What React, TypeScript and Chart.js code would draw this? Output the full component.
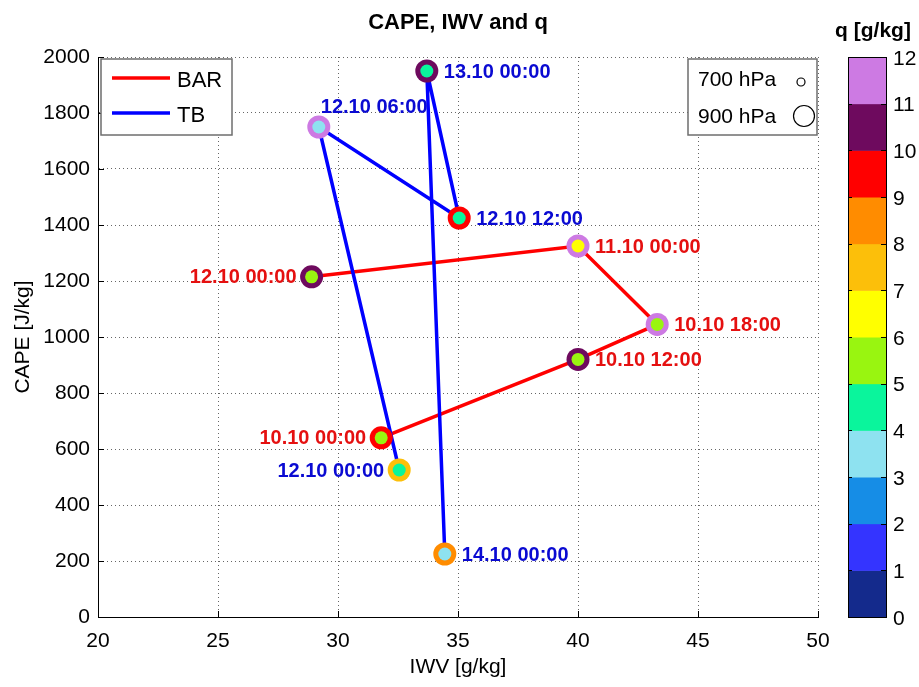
import React, { useEffect, useRef } from "react";
import { Chart, registerables } from "chart.js";

Chart.register(...registerables);

// ---------- data ----------
const barTimes = ["10.10 00:00", "10.10 12:00", "10.10 18:00", "11.10 00:00", "12.10 00:00"];
const barIWV = [31.8, 40.0, 43.3, 40.0, 28.9];
const barCAPE = [640, 920, 1045, 1325, 1215];
const barQ700 = [5.5, 5.5, 5.5, 6.5, 5.5];
const barQ900 = [9.5, 10.5, 11.5, 11.5, 10.5];

const tbTimes = ["12.10 00:00", "12.10 06:00", "12.10 12:00", "13.10 00:00", "14.10 00:00"];
const tbIWV = [32.55, 29.2, 35.05, 33.7, 34.45];
const tbCAPE = [525, 1750, 1425, 1950, 225];
const tbQ700 = [4.5, 3.5, 4.5, 4.5, 3.5];
const tbQ900 = [7.5, 11.5, 9.5, 10.5, 8.5];

const qTicks = [0, 1, 2, 3, 4, 5, 6, 7, 8, 9, 10, 11, 12];
const qColors = [
  "#142a8c", "#3434ff", "#168de6", "#8ee2f0", "#0af59c", "#99f510",
  "#ffff00", "#fcbf0a", "#ff8c00", "#ff0000", "#6e0a5e", "#cd7ae3",
];

// label placement (style)
const barLabelSide = ["left", "right", "right", "right", "left"];
const tbLabelSide = ["left", "above", "right", "right", "right"];

const FONT = "'Liberation Sans', Arial, Helvetica, sans-serif";
const RED = "#ff0000";
const BLUE = "#0000ff";
const RED_TXT = "#e51010";
const BLUE_TXT = "#0a0ad2";
const GRID = "rgba(0,0,0,0.6)";

const qColor = (q: number) => qColors[Math.max(0, Math.min(qColors.length - 1, Math.floor(q)))];
const pts = (xs: number[], ys: number[]) => xs.map((x, i) => ({ x, y: ys[i] }));

const decor = {
  id: "decor",
  afterDraw(chart: any) {
    const ctx: CanvasRenderingContext2D = chart.ctx;
    const xs = chart.scales.x;
    const ys = chart.scales.y;
    const qs = chart.scales.q;
    const area = chart.chartArea;
    ctx.save();

    // inward ticks
    ctx.strokeStyle = "#000";
    ctx.lineWidth = 1;
    ctx.beginPath();
    xs.ticks.forEach((t: any) => {
      const px = Math.round(xs.getPixelForValue(t.value)) + 0.5;
      ctx.moveTo(px, area.bottom);
      ctx.lineTo(px, area.bottom - 6);
    });
    ys.ticks.forEach((t: any) => {
      const py = Math.round(ys.getPixelForValue(t.value)) + 0.5;
      ctx.moveTo(area.left, py);
      ctx.lineTo(area.left + 6, py);
    });
    ctx.stroke();

    // title & axis titles
    ctx.fillStyle = "#000";
    ctx.textAlign = "center";
    ctx.textBaseline = "middle";
    ctx.font = `bold 22px ${FONT}`;
    ctx.fillText("CAPE, IWV and q", (area.left + area.right) / 2, 23);
    ctx.font = `21px ${FONT}`;
    ctx.fillText("IWV [g/kg]", (area.left + area.right) / 2, 667);
    ctx.save();
    ctx.translate(23, (area.top + area.bottom) / 2);
    ctx.rotate(-Math.PI / 2);
    ctx.fillText("CAPE [J/kg]", 0, 0);
    ctx.restore();

    // point labels
    const drawLabels = (times: string[], ix: number[], iy: number[], sides: string[], color: string) => {
      ctx.font = `bold 20px ${FONT}`;
      ctx.fillStyle = color;
      ctx.textBaseline = "middle";
      times.forEach((t, i) => {
        const px = xs.getPixelForValue(ix[i]);
        const py = ys.getPixelForValue(iy[i]);
        if (sides[i] === "left") {
          ctx.textAlign = "right";
          ctx.fillText(t, px - 15, py + 1);
        } else if (sides[i] === "right") {
          ctx.textAlign = "left";
          ctx.fillText(t, px + 17, py + 1);
        } else {
          ctx.textAlign = "left";
          ctx.fillText(t, px + 2, py - 20);
        }
      });
    };
    drawLabels(barTimes, barIWV, barCAPE, barLabelSide, RED_TXT);
    drawLabels(tbTimes, tbIWV, tbCAPE, tbLabelSide, BLUE_TXT);

    // legend 1 (lines)
    ctx.fillStyle = "#fff";
    ctx.strokeStyle = "#6e6e6e";
    ctx.lineWidth = 1.5;
    ctx.fillRect(101, 59, 131, 76);
    ctx.strokeRect(101, 59, 131, 76);
    ctx.lineWidth = 3.5;
    ctx.strokeStyle = RED;
    ctx.beginPath();
    ctx.moveTo(112, 78);
    ctx.lineTo(170, 78);
    ctx.stroke();
    ctx.strokeStyle = BLUE;
    ctx.beginPath();
    ctx.moveTo(112, 113);
    ctx.lineTo(170, 113);
    ctx.stroke();
    ctx.fillStyle = "#000";
    ctx.font = `22px ${FONT}`;
    ctx.textAlign = "left";
    ctx.textBaseline = "middle";
    ctx.fillText("BAR", 177, 81);
    ctx.fillText("TB", 177, 116);

    // legend 2 (marker sizes)
    ctx.fillStyle = "#fff";
    ctx.strokeStyle = "#6e6e6e";
    ctx.lineWidth = 1.5;
    ctx.fillRect(688, 59, 129, 76);
    ctx.strokeRect(688, 59, 129, 76);
    ctx.fillStyle = "#000";
    ctx.font = `21px ${FONT}`;
    ctx.fillText("700 hPa", 698, 80);
    ctx.fillText("900 hPa", 698, 117);
    ctx.strokeStyle = "#000";
    ctx.lineWidth = 1.2;
    ctx.beginPath();
    ctx.arc(801, 82, 4, 0, Math.PI * 2);
    ctx.stroke();
    ctx.beginPath();
    ctx.arc(804, 116, 10.5, 0, Math.PI * 2);
    ctx.stroke();

    // colorbar
    const cbL = 848;
    const cbR = 886;
    for (let i = 0; i < qColors.length; i++) {
      const y1 = qs.getPixelForValue(qTicks[i]);
      const y2 = qs.getPixelForValue(qTicks[i + 1]);
      ctx.fillStyle = qColors[i];
      ctx.fillRect(cbL, Math.min(y1, y2), cbR - cbL, Math.abs(y1 - y2) + 0.5);
    }
    const top = qs.getPixelForValue(12);
    const bot = qs.getPixelForValue(0);
    ctx.strokeStyle = "#000";
    ctx.lineWidth = 1;
    ctx.strokeRect(cbL + 0.5, top + 0.5, cbR - cbL, bot - top);
    ctx.beginPath();
    qTicks.forEach((q) => {
      const py = Math.round(qs.getPixelForValue(q)) + 0.5;
      ctx.moveTo(cbR - 5, py);
      ctx.lineTo(cbR, py);
      ctx.moveTo(cbL, py);
      ctx.lineTo(cbL + 4, py);
    });
    ctx.stroke();
    ctx.fillStyle = "#000";
    ctx.font = `21px ${FONT}`;
    ctx.textAlign = "left";
    ctx.textBaseline = "middle";
    qTicks.forEach((q) => {
      ctx.fillText(String(q), cbR + 7, qs.getPixelForValue(q) + 2);
    });
    ctx.font = `bold 21px ${FONT}`;
    ctx.textAlign = "center";
    ctx.fillText("q [g/kg]", 873, 31);

    ctx.restore();
  },
};

export default function App() {
  const ref = useRef<HTMLCanvasElement>(null);
  useEffect(() => {
    document.body.style.margin = "0";
    const canvas = ref.current!;
    const tickFont = { family: FONT, size: 21 };
    const plain = (v: any) => String(v);
    const chart = new Chart(canvas, {
      type: "scatter",
      data: {
        datasets: [
          {
            label: "BAR",
            data: pts(barIWV, barCAPE),
            showLine: true,
            borderColor: RED,
            borderWidth: 3.5,
            pointRadius: 0,
            order: 10,
          },
          {
            label: "TB",
            data: pts(tbIWV, tbCAPE),
            showLine: true,
            borderColor: BLUE,
            borderWidth: 3.5,
            pointRadius: 0,
            order: 9,
          },
          {
            label: "BAR 900",
            data: pts(barIWV, barCAPE),
            pointRadius: 11.5,
            pointBorderWidth: 0,
            borderWidth: 0,
            pointBackgroundColor: barQ900.map(qColor),
            order: 5,
          },
          {
            label: "TB 900",
            data: pts(tbIWV, tbCAPE),
            pointRadius: 11.5,
            pointBorderWidth: 0,
            borderWidth: 0,
            pointBackgroundColor: tbQ900.map(qColor),
            order: 5,
          },
          {
            label: "BAR 700",
            data: pts(barIWV, barCAPE),
            pointRadius: 6.5,
            pointBorderWidth: 0,
            borderWidth: 0,
            pointBackgroundColor: barQ700.map(qColor),
            order: 1,
          },
          {
            label: "TB 700",
            data: pts(tbIWV, tbCAPE),
            pointRadius: 6.5,
            pointBorderWidth: 0,
            borderWidth: 0,
            pointBackgroundColor: tbQ700.map(qColor),
            order: 1,
          },
        ],
      },
      options: {
        responsive: false,
        animation: false,
        devicePixelRatio: 1,
        layout: { padding: { top: 57, left: 0, right: 0, bottom: 0 } },
        plugins: {
          legend: { display: false },
          tooltip: { enabled: false },
          title: { display: false },
        },
        scales: {
          x: {
            type: "linear",
            min: 20,
            max: 50,
            ticks: { stepSize: 5, font: tickFont, color: "#000", padding: 12, callback: plain },
            grid: { color: GRID, lineWidth: 1, drawTicks: false },
            border: { display: true, color: "#000", width: 1, dash: [1, 3] },
            afterFit(s: any) {
              s.height = 70;
            },
          },
          y: {
            type: "linear",
            min: 0,
            max: 2000,
            ticks: { stepSize: 200, font: tickFont, color: "#000", padding: 8, callback: plain },
            grid: { color: GRID, lineWidth: 1, drawTicks: false },
            border: { display: true, color: "#000", width: 1, dash: [1, 3] },
            afterFit(s: any) {
              s.width = 98;
            },
          },
          q: {
            type: "linear",
            position: "right",
            min: 0,
            max: 12,
            ticks: { display: false, stepSize: 1 },
            grid: { display: false },
            border: { display: false },
            afterFit(s: any) {
              s.width = 101;
            },
          },
        },
      } as any,
      plugins: [decor],
    });
    return () => chart.destroy();
  }, []);
  return (
    <div style={{ width: 919, height: 687 }}>
      <canvas ref={ref} width={919} height={687} style={{ display: "block" }} />
    </div>
  );
}
